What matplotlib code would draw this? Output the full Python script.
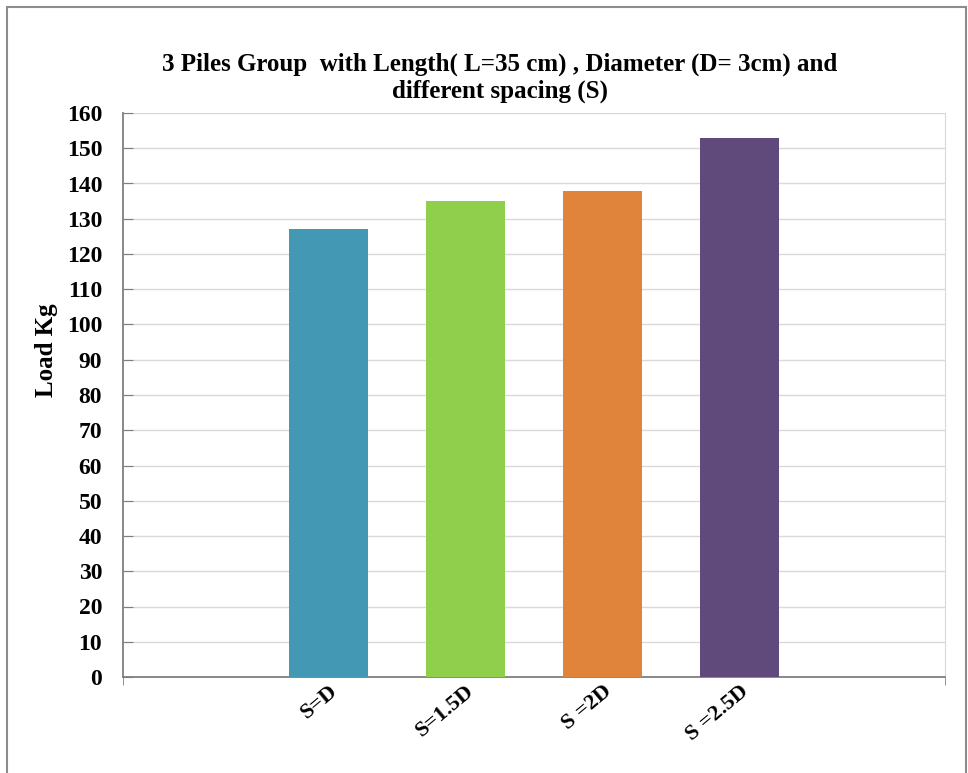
import matplotlib.pyplot as plt
from matplotlib.patches import Rectangle
import numpy as np

# pile group test results
slots = ['', 'S=D', 'S=1.5D', 'S =2D', 'S =2.5D', '']
loads = [0, 127, 135, 138, 153, 0]
colors = ['none', '#4398b4', '#90cf4c', '#e0843b', '#604a7b', 'none']

plt.rcParams['font.family'] = ['Liberation Serif', 'DejaVu Serif']
plt.rcParams['font.weight'] = 'bold'

fig = plt.figure(figsize=(9.68, 7.73), dpi=100)
ax = fig.add_axes([123 / 968, 1 - 677 / 773, 822 / 968, 564 / 773])

x = np.arange(len(slots))
ax.bar(x, loads, width=0.57, color=colors, zorder=3)

ax.set_xlim(-0.5, len(slots) - 0.5)
ax.set_ylim(0, 160)
ax.set_yticks(np.arange(0, 161, 10))
ax.yaxis.grid(True, color='#d9d9d9', linewidth=1.0, zorder=0)
ax.tick_params(axis='y', direction='in', length=7, color='#7f7f7f',
               labelsize=17, pad=15)
for lbl in ax.get_yticklabels():
    lbl.set_fontweight('bold')

ax.set_xticks(x[1:-1])
ax.set_xticklabels(slots[1:-1], rotation=40, ha='right', rotation_mode='anchor',
                   fontsize=16, fontweight='bold')
ax.tick_params(axis='x', length=0, pad=3)
ax.set_xticks([-0.5, len(slots) - 0.5], minor=True)
ax.tick_params(axis='x', which='minor', direction='out', length=6, color='#7f7f7f')

ax.spines['left'].set_color('#7f7f7f')
ax.spines['bottom'].set_color('#7f7f7f')
ax.spines['left'].set_linewidth(1.3)
ax.spines['bottom'].set_linewidth(1.3)
ax.spines['right'].set_color('#d9d9d9')
ax.spines['top'].set_visible(False)

fig.text(47 / 968, 1 - 350 / 773, 'Load Kg', rotation=90, ha='center', va='center',
         fontsize=18, fontweight='bold')
fig.text(500 / 968, 1 - 78 / 773,
         '3 Piles Group  with Length( L=35 cm) , Diameter (D= 3cm) and\ndifferent spacing (S)',
         ha='center', va='center', fontsize=18, fontweight='bold', linespacing=1.2)

# outer frame
fig.patches.append(Rectangle((7 / 968, -0.01), 959 / 968, 1 - 7 / 773 + 0.01,
                             transform=fig.transFigure, fill=False,
                             edgecolor='#8c8c8c', linewidth=1.5))

fig.savefig('out.png', dpi=100)
